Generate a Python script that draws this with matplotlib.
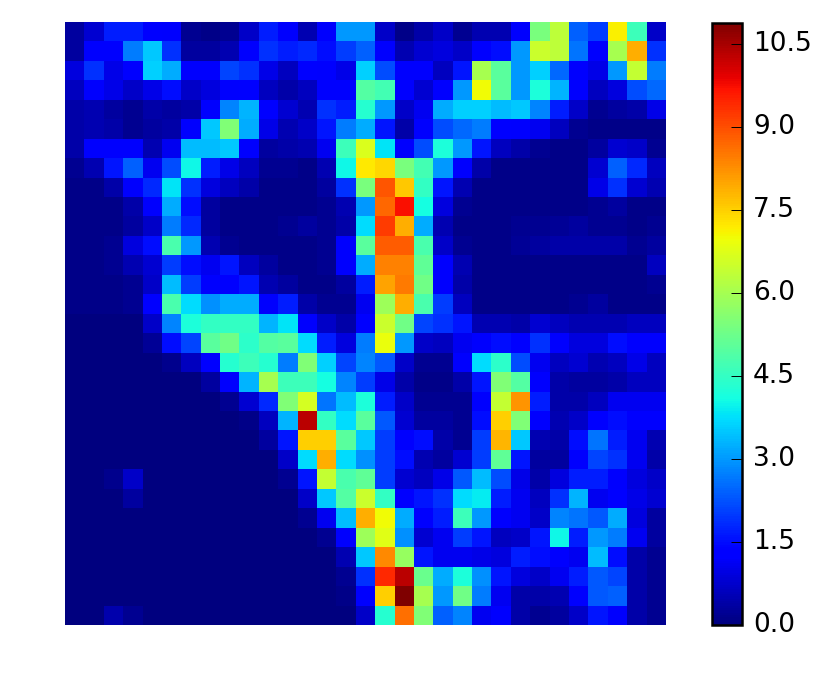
import numpy as np
import matplotlib
matplotlib.use('Agg')
import matplotlib.pyplot as plt

vmax = 10.88
cbar_ticks = [0.0, 1.5, 3.0, 4.5, 6.0, 7.5, 9.0, 10.5]

rows_top = [
    [.3,.8,1.7,1.7,1.4,1.2,.2,.1,.2,.7,1.7,1.2,.5,1.2,3.0,3.0,.7,.1,.4,.7,.2,.5,.5,1.2,5.4,6.3,2.4,2.0,7.1,4.6,.7],
    [.3,1.2,1.2,2.7,3.5,1.9,.3,.3,.5,1.2,1.9,1.7,1.8,1.5,2.0,2.4,1.2,.5,.8,.9,.7,1.4,1.5,3.0,6.5,6.3,2.6,1.2,6.0,7.9,1.9],
    [.9,1.9,1.0,1.4,3.6,3.2,1.2,1.2,2.1,1.9,1.0,.6,1.3,1.2,1.0,3.6,2.2,1.2,1.2,.6,1.6,6.0,5.0,3.0,3.6,2.5,1.2,1.0,3.0,6.4,2.7],
    [.6,1.2,1.0,.7,1.0,1.5,.7,.9,1.2,1.3,.6,.4,.6,1.2,1.2,4.9,4.7,1.3,.8,1.3,3.0,7.0,5.0,3.0,4.2,3.3,1.2,.6,.9,2.2,2.5],
    [.4,.5,.3,.2,.4,.3,.4,1.2,2.8,3.3,1.4,.8,.5,1.9,1.7,4.3,3.0,.7,1.1,3.2,3.6,3.6,3.4,3.5,2.8,1.7,.7,.2,.3,.4,1.0],
    [.4,.5,.4,.2,.3,.4,1.2,3.5,5.5,3.2,1.0,.5,.7,1.6,2.7,3.2,1.6,.4,1.2,2.2,2.5,2.7,1.3,1.2,1.1,.6,.2,.1,.1,.1,.1],
    [.4,1.2,1.2,1.2,.5,1.1,3.4,3.4,3.5,1.2,.3,.4,.5,1.1,4.6,6.7,3.8,1.2,2.2,4.2,3.0,1.6,.6,.4,.2,.1,.1,.3,.8,.7,.2],
    [.2,.5,1.6,2.4,1.1,2.2,4.0,1.7,1.0,.6,.2,.2,.1,.5,4.0,7.2,7.4,5.4,4.7,3.0,1.2,.4,.1,.1,.1,.1,.1,.8,2.4,1.8,.6],
    [.1,.1,.4,1.2,1.8,3.8,1.9,.9,.6,.4,.1,.1,.1,.3,1.9,5.4,8.9,7.6,4.5,1.6,.5,.1,.1,.1,.1,.1,.1,1.0,1.9,.8,.5],
    [.1,.1,.1,.4,1.2,3.2,1.5,.3,.1,.1,.1,.1,.1,.2,.5,3.0,8.7,9.7,4.1,.9,.2,.1,.1,.1,.1,.1,.1,.2,.3,.1,.1],
    [.1,.1,.1,.3,.7,2.7,1.8,.3,.1,.1,.1,.2,.3,.2,.4,3.7,9.2,7.9,3.2,.5,.1,.1,.1,.2,.2,.25,.3,.2,.2,.1,.2],
    [.1,.1,.2,.9,1.5,4.8,3.0,.5,.2,.1,.1,.1,.1,.2,1.2,5.0,8.8,8.8,4.8,.7,.2,.1,.1,.25,.3,.4,.4,.4,.4,.2,.3],
    [.1,.1,.2,.5,.8,2.0,1.5,1.1,1.6,.6,.3,.1,.1,.2,1.2,3.2,8.4,8.4,5.1,1.2,.5,.1,.1,.1,.1,.1,.1,.1,.1,.1,.6],
    [.1,.1,.1,.2,.7,3.4,2.0,1.2,1.2,1.6,.5,.3,.1,.1,.3,1.7,8.0,8.5,5.3,1.2,.4,.1,.1,.1,.1,.1,.1,.1,.1,.1,.2],
    [.1,.1,.1,.2,1.4,4.8,3.7,2.9,3.2,3.2,1.2,1.7,.4,.2,.2,1.1,5.9,7.9,4.8,2.0,.6,.1,.1,.1,.1,.1,.2,.3,.1,.1,.1],
]
rows_bottom = [
    [0,0,0,0,.7,2.8,4.2,4.5,4.5,4.5,3.3,3.8,1.2,.7,.4,1.3,6.5,5.3,2.1,1.9,1.6,.5,.5,.4,.8,.6,.5,.5,.5,.6,.6],
    [0,0,0,0,.25,1.5,2.1,5.0,5.3,4.4,4.9,5.0,3.7,1.7,.9,2.7,6.9,3.0,.7,.6,1.1,1.2,1.5,1.3,1.9,1.2,.9,.9,1.5,1.2,1.2],
    [0,0,0,0,0,.15,.6,1.3,4.3,4.6,4.3,2.7,5.5,3.6,2.1,2.8,2.3,.7,.2,.2,1.2,3.7,4.4,2.2,1.1,.6,.8,.5,.6,1.0,.6],
    [0,0,0,0,0,0,0,.3,1.2,3.3,6.0,4.6,4.6,4.1,2.8,2.0,1.0,.4,.1,.1,.4,1.6,5.5,4.9,1.2,.4,.3,.3,.4,.6,.6],
    [0,0,0,0,0,0,0,0,.2,.8,1.8,5.5,6.6,2.6,3.4,4.2,1.7,.7,.2,.2,.2,1.2,6.4,8.2,1.7,.4,.4,.6,1.1,1.1,1.1],
    [0,0,0,0,0,0,0,0,0,.1,.6,3.3,10.3,4.5,3.7,5.0,2.3,.8,.3,.3,.2,1.5,7.5,5.5,1.2,.5,.7,1.3,1.5,1.2,1.2],
    [0,0,0,0,0,0,0,0,0,0,.3,1.6,7.5,7.5,5.0,3.5,2.0,1.2,1.5,.4,.2,2.0,7.8,3.5,.5,.4,1.5,2.6,1.7,1.1,.5],
    [0,0,0,0,0,0,0,0,0,0,0,.7,3.7,7.9,3.7,2.9,2.0,1.5,.5,.3,.8,2.0,5.1,1.6,.3,.3,1.2,2.1,1.9,1.1,.4],
    [0,0,.15,.7,0,0,0,0,0,0,0,.2,1.6,6.4,4.8,5.1,2.0,.8,.6,1.0,2.3,3.4,2.2,1.0,.4,.9,1.7,1.7,1.2,.9,.7],
    [0,0,0,.3,0,0,0,0,0,0,0,0,.7,3.5,4.9,6.5,4.5,1.4,1.6,1.9,3.7,3.9,1.7,1.1,.6,1.9,3.3,1.1,1.3,1.0,.8],
    [0,0,0,0,0,0,0,0,0,0,0,0,.2,1.1,3.4,7.9,7.0,3.2,1.2,1.7,4.6,3.0,1.2,1.1,.7,2.8,2.6,2.3,3.2,.9,.3],
    [0,0,0,0,0,0,0,0,0,0,0,0,0,.2,1.2,5.9,6.8,2.9,.8,1.1,2.0,1.6,.6,.7,1.6,4.0,1.7,3.0,2.7,1.1,.3],
    [0,0,0,0,0,0,0,0,0,0,0,0,0,0,.5,3.5,8.3,5.8,1.6,1.1,1.1,1.0,.9,1.7,1.5,1.2,1.1,3.4,1.5,.4,.2],
    [0,0,0,0,0,0,0,0,0,0,0,0,0,0,.2,1.9,9.4,10.3,5.2,3.2,4.2,2.9,1.6,.9,.7,1.1,1.7,2.3,2.1,.4,.2],
    [0,0,0,0,0,0,0,0,0,0,0,0,0,0,.1,1.2,7.5,10.88,6.0,3.0,5.3,2.7,1.1,.4,.4,.5,1.2,2.3,2.4,.4,.2],
    [0,0,.45,.2,0,0,0,0,0,0,0,0,0,0,0,.7,4.3,8.6,5.5,2.4,2.8,1.1,1.2,.4,.2,.3,.7,1.6,1.2,.4,.2],
]
grid = np.array(rows_top + rows_bottom)

w, h = 832, 681
fig = plt.figure(figsize=(w/100.0, h/100.0), dpi=100)
fig.set_facecolor('white')

ax = fig.add_axes([65.0/w, 1-625.0/h, 601.0/w, 603.0/h])
im = ax.imshow(grid, cmap='jet', vmin=0, vmax=vmax, interpolation='nearest', aspect='auto')
ax.axis('off')

cax = fig.add_axes([712.0/w, 1-624.5/h, 30.0/w, 602.0/h])
cb = fig.colorbar(im, cax=cax, ticks=cbar_ticks)
cb.ax.set_yticklabels(['%.1f' % t for t in cbar_ticks])
cb.ax.tick_params(direction='in', length=8, width=0.7, labelsize=19, pad=8, right=True)
for lab in cb.ax.get_yticklabels():
    lab.set_va('center')
cb.outline.set_linewidth(1.8)

plt.savefig('out.png', dpi=100)
